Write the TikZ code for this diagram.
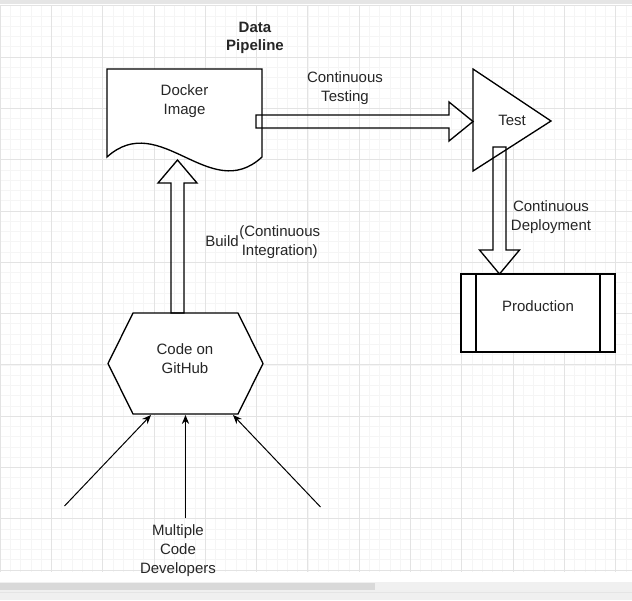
\documentclass[tikz,border=0pt]{standalone}
\usepackage{fontspec}
\setmainfont{Liberation Sans}
\usetikzlibrary{calc,arrows.meta}
\definecolor{minorg}{HTML}{F5F5F5}
\definecolor{majorg}{HTML}{E3E3E3}
\definecolor{txt}{HTML}{262626}
\tikzset{
  shapeline/.style={draw=black, line width=1pt, fill=white, line join=miter},
  blockarrow/.style={draw=black, line width=1pt, line join=miter},
  devline/.style={draw=black, line width=0.75pt, -{Stealth[length=6.75pt,width=5.5pt]}},
  lbl/.style={text=txt, align=center, inner sep=0pt, font=\fontsize{11.25pt}{14.25pt}\selectfont},
  title/.style={lbl, font=\fontsize{11.25pt}{13.5pt}\selectfont\bfseries},
}
\begin{document}
\begin{tikzpicture}[x=0.75pt, y=-0.75pt]
\useasboundingbox (0,0) rectangle (632,600);
\fill[white] (0,0) rectangle (632,600);
% grid
\foreach \i in {0,...,62} \draw[minorg, line width=0.4pt] (\i*10.26,5) -- (\i*10.26,572);
\foreach \j in {0,...,55} \draw[minorg, line width=0.4pt] (0,5.7+\j*10.26) -- (632,5.7+\j*10.26);
\foreach \i in {0,...,12} \draw[majorg, line width=0.6pt] (\i*51.3,5) -- (\i*51.3,572);
\foreach \j in {0,...,11} \draw[majorg, line width=0.6pt] (0,5.7+\j*51.3) -- (632,5.7+\j*51.3);
% window bars
\fill[black!10] (0,0) rectangle (632,4);
\fill[black!6] (0,580) rectangle (632,600);
\fill[white] (0,573) rectangle (632,582);
\fill[black!15] (0,583) rectangle (375,590);
\draw[black!10, line width=0.6pt] (0,592) -- (632,592);

% Docker image (document shape)
\path[shapeline] (107,69) -- (262,69) -- (262,157)
  .. controls (210,205) and (160,109) .. (107,157) -- cycle;
\node[lbl] (docker) at (184.5,101.5) {Docker\\Image};

% Test (triangle)
\path[shapeline] (473,69) -- (551,121) -- (473,171) -- cycle;
\node[lbl] (test) at (512,120) {Test};

% Production (process)
\path[shapeline] (461,274) rectangle (615,352);
\draw[line width=1pt] (476,274) -- (476,352) (600,274) -- (600,352);
\node[lbl] (prod) at (538,306) {Production};

% Code on GitHub (hexagon)
\path[shapeline] (108,363.5) -- (133,313) -- (238,313) -- (263,363.5) -- (238,414) -- (133,414) -- cycle;
\node[lbl] (code) at (185,358.5) {Code on\\GitHub};

% named coordinates for connectors
\coordinate (ctS) at (256,121.5);
\coordinate (ctE) at (473,121.5);
\coordinate (bS) at (177.5,313);
\coordinate (bE) at (177.5,160);
\coordinate (dS) at (499.5,147);
\coordinate (dE) at (499.5,274);

% Continuous testing arrow
\draw[blockarrow] ($(ctS)+(0,-6.5)$) -- ($(ctE)+(-24,-6.5)$) -- ($(ctE)+(-24,-19.5)$) -- (ctE)
  -- ($(ctE)+(-24,19.5)$) -- ($(ctE)+(-24,6.5)$) -- ($(ctS)+(0,6.5)$) -- cycle;
% Build arrow
\draw[blockarrow] ($(bS)+(-6.5,0)$) -- ($(bE)+(-6.5,23)$) -- ($(bE)+(-19.5,23)$) -- (bE)
  -- ($(bE)+(19.5,23)$) -- ($(bE)+(6.5,23)$) -- ($(bS)+(6.5,0)$) -- cycle;
% Deployment arrow
\draw[blockarrow] ($(dS)+(-6.5,0)$) -- ($(dE)+(-6.5,-24)$) -- ($(dE)+(-20,-24)$) -- (dE)
  -- ($(dE)+(20,-24)$) -- ($(dE)+(6.5,-24)$) -- ($(dS)+(6.5,0)$) -- cycle;

% developers arrows
\coordinate (dev1) at (64.5,506);
\coordinate (dev2) at (185.5,518);
\coordinate (dev3) at (320.5,507);
\coordinate (h1) at (151,415);
\coordinate (h2) at (185.5,415);
\coordinate (h3) at (233,415);
\draw[devline] (dev1) -- (h1);
\draw[devline] (dev2) -- (h2);
\draw[devline] (dev3) -- (h3);

% labels
\node[title] (ttl) at (255,37.5) {Data\\Pipeline};
\node[lbl] (ctlbl) at (345,88.5) {Continuous\\Testing};
\node[lbl] (cdlbl) at (551,217.5) {Continuous\\Deployment};
\node[lbl, anchor=east] (buildlbl) at (239,241) {Build};
\node[lbl, anchor=west] (cilbl) at (239,242.5) {(Continuous\\Integration)};
\node[lbl] (devlbl) at (178,551) {Multiple\\Code\\Developers};
\end{tikzpicture}
\end{document}
